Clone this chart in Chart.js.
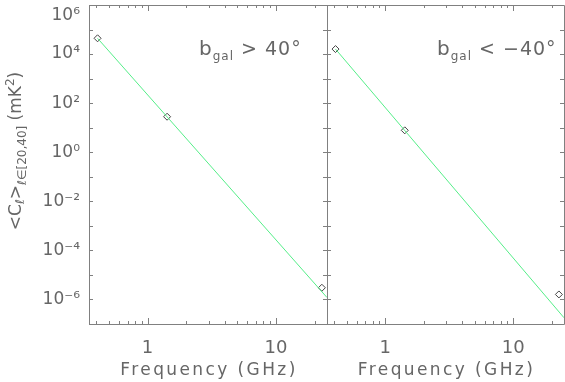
<!DOCTYPE html>
<html>
<head>
<meta charset="utf-8">
<script src="https://cdn.jsdelivr.net/npm/chart.js@4.4.1/dist/chart.umd.min.js"></script>
<style>
  body { margin: 0; background: #fff; }
  .wrap { position: relative; width: 565px; height: 382px; }
  .wrap canvas { position: absolute; left: 0; top: 0; }
</style>
</head>
<body>
<div class="wrap">
  <canvas id="northChart" width="565" height="382"></canvas>
  <canvas id="southChart" width="565" height="382"></canvas>
</div>
<script>
// measured band powers, <C_l> for l in [20,40] (mK^2)
const freqs = [0.408, 1.42, 22.8];
const northPower = [4.4e4, 28, 3.0e-6];
const southPower = [1.6e4, 7.8, 1.6e-6];

// power-law fits (start and end of each line)
const fitFreqs = [0.408, 25];
const northFit = [4.4e4, 1.2e-6];
const southFit = [1.6e4, 1.8e-7];

const xLabelTicks = [1, 10];
const yDecades = [-7, -6, -5, -4, -3, -2, -1, 0, 1, 2, 3, 4, 5, 6];

const FONT = "'DejaVu Sans', sans-serif";
const TEXT = '#666666';
const AXIS = '#808080';
const SUP = { '0': '⁰', '1': '¹', '2': '²', '3': '³', '4': '⁴', '5': '⁵', '6': '⁶', '7': '⁷', '8': '⁸', '9': '⁹', '-': '⁻' };

function supText(n) {
    return String(n).split('').map(c => SUP[c]).join('');
}

function pts(xs, ys) {
    return xs.map((x, i) => ({ x: x, y: ys[i] }));
}

// frame + inward ticks, like the IDL plot
const framePlugin = {
    id: 'frame',
    afterDraw(chart) {
        const ctx = chart.ctx;
        const a = chart.chartArea;
        const xs = chart.scales.x, ys = chart.scales.y;
        ctx.save();
        ctx.strokeStyle = AXIS;
        ctx.lineWidth = 1;
        ctx.beginPath();
        ctx.rect(Math.round(a.left) + 0.5, Math.round(a.top) + 0.5,
                 Math.round(a.right - a.left), Math.round(a.bottom - a.top));
        ctx.stroke();

        ctx.beginPath();
        const lo = Math.floor(Math.log10(xs.min)), hi = Math.ceil(Math.log10(xs.max));
        for (let e = lo; e <= hi; e++) {
            for (let m = 1; m <= 9; m++) {
                const v = m * Math.pow(10, e);
                if (v < xs.min || v > xs.max) continue;
                const px = Math.round(xs.getPixelForValue(v)) + 0.5;
                const len = m === 1 ? 6 : 3;
                ctx.moveTo(px, a.bottom); ctx.lineTo(px, a.bottom - len);
                ctx.moveTo(px, a.top); ctx.lineTo(px, a.top + len);
            }
        }
        yDecades.forEach(e => {
            const py = Math.round(ys.getPixelForValue(Math.pow(10, e))) + 0.5;
            ctx.moveTo(a.left, py); ctx.lineTo(a.left + 4, py);
            ctx.moveTo(a.right, py); ctx.lineTo(a.right - 4, py);
        });
        ctx.stroke();

        const lab = chart.options.plugins.frame;
        ctx.fillStyle = TEXT;

        // x title, wide like the vector font
        ctx.font = '17px ' + FONT;
        ctx.letterSpacing = '2.4px';
        ctx.textAlign = 'center';
        ctx.textBaseline = 'middle';
        ctx.fillText('Frequency (GHz)', (a.left + a.right) / 2 + 1, 371);

        // panel label
        if (lab && lab.text) {
            let x = lab.x;
            const y = lab.y;
            ctx.letterSpacing = '1px';
            ctx.textBaseline = 'alphabetic';
            ctx.textAlign = 'left';
            ctx.font = '20px ' + FONT;
            ctx.fillText('b', x, y);
            x += ctx.measureText('b').width;
            ctx.font = '12px ' + FONT;
            ctx.fillText('gal', x, y + 5);
            x += ctx.measureText('gal').width;
            ctx.font = '19px ' + FONT;
            ctx.fillText(lab.text, x, y);
        }

        // rotated y title
        if (lab && lab.yTitle) {
            ctx.letterSpacing = '0px';
            ctx.translate(21, 151);
            ctx.rotate(-Math.PI / 2);
            const parts = [
                ['<C', 17, 0], ['ℓ', 12, 3], ['>', 17, 0], ['ℓ∈[20,40]', 12, 5],
                [' (mK', 17, 0], ['2', 12, -7], [')', 17, 0]
            ];
            let total = 0;
            parts.forEach(p => { ctx.font = p[1] + 'px ' + FONT; total += ctx.measureText(p[0]).width; });
            let x = -total / 2;
            ctx.textAlign = 'left';
            ctx.textBaseline = 'alphabetic';
            parts.forEach(p => {
                ctx.font = p[1] + 'px ' + FONT;
                ctx.fillText(p[0], x, p[2]);
                x += ctx.measureText(p[0]).width;
            });
        }
        ctx.restore();
    }
};

function makePanel(id, power, fit, opts) {
    const ctx = document.getElementById(id).getContext('2d');
    return new Chart(ctx, {
        type: 'scatter',
        data: {
            datasets: [{
                data: pts(fitFreqs, fit),
                showLine: true,
                borderColor: '#55ee88',
                borderWidth: 1,
                pointRadius: 0
            }, {
                data: pts(freqs, power),
                showLine: false,
                pointStyle: 'rectRot',
                pointRadius: 3.5,
                borderColor: '#444',
                borderWidth: 1,
                backgroundColor: 'rgba(0,0,0,0)'
            }]
        },
        options: {
            responsive: false,
            animation: false,
            devicePixelRatio: 1,
            layout: { padding: opts.padding, autoPadding: false },
            plugins: {
                legend: { display: false },
                tooltip: { enabled: false },
                frame: { text: opts.label, x: opts.labelX, y: 55, yTitle: opts.yTitle }
            },
            scales: {
                x: {
                    type: 'logarithmic',
                    min: 0.35,
                    max: 25,
                    grid: { display: false, drawTicks: false },
                    border: { display: false },
                    afterBuildTicks: s => { s.ticks = xLabelTicks.map(v => ({ value: v })); },
                    afterFit: s => {
                        s.height = 58;
                        s.paddingLeft = 0; s.paddingRight = 0;
                    },
                    ticks: {
                        autoSkip: false,
                        maxRotation: 0,
                        padding: 14,
                        color: TEXT,
                        font: { family: FONT, size: 18 },
                        callback: v => String(v)
                    }
                },
                y: {
                    type: 'logarithmic',
                    min: 1e-7,
                    max: 1e6,
                    grid: { display: false, drawTicks: false },
                    border: { display: false },
                    afterBuildTicks: s => { s.ticks = yDecades.map(e => ({ value: Math.pow(10, e) })); },
                    afterFit: s => {
                        s.width = opts.yWidth;
                        s.paddingTop = 0; s.paddingBottom = 0;
                    },
                    ticks: {
                        display: opts.yLabels,
                        autoSkip: false,
                        padding: 9,
                        color: TEXT,
                        font: { family: FONT, size: 17 },
                        callback: v => {
                            const e = Math.round(Math.log10(v));
                            if (e % 2 !== 0) return '';
                            const s = '10' + supText(e);
                            // top label sits just under the frame corner
                            return e === yDecades[yDecades.length - 1] ? ['', s] : s;
                        }
                    }
                }
            }
        },
        plugins: [framePlugin]
    });
}

makePanel('northChart', northPower, northFit, {
    padding: { top: 5, left: 0, right: 238, bottom: 0 },
    yWidth: 89, yLabels: true, yTitle: true,
    label: ' > 40°', labelX: 199
});
makePanel('southChart', southPower, southFit, {
    padding: { top: 5, left: 327, right: 1, bottom: 0 },
    yWidth: 0, yLabels: false, yTitle: false,
    label: ' < −40°', labelX: 437
});
</script>
</body>
</html>
